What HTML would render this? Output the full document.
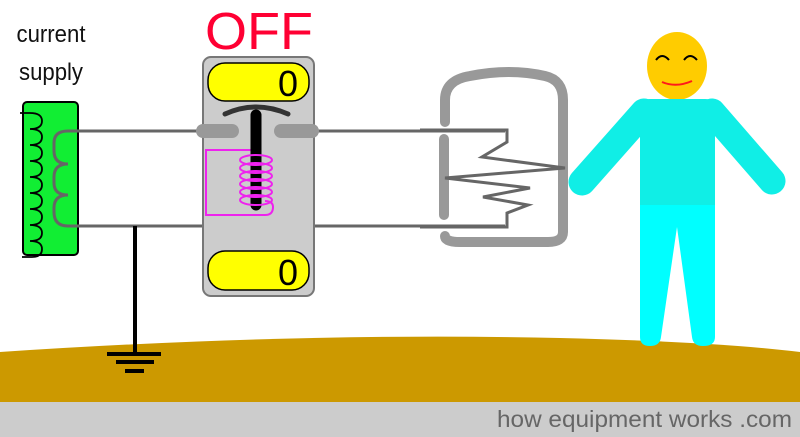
<!DOCTYPE html>
<html><head><style>html,body{margin:0;padding:0;background:#fff}svg{display:block}</style></head><body>
<svg width="800" height="437" viewBox="0 0 800 437" xmlns="http://www.w3.org/2000/svg" font-family="Liberation Sans, sans-serif">
<rect width="800" height="437" fill="#fff"/>
<!-- ground -->
<path d="M0 352 Q300 332 560 338 Q720 342 800 352 L800 402 L0 402 Z" fill="#cc9900"/>
<rect x="0" y="402" width="800" height="35" fill="#cccccc"/>
<text x="792" y="427" text-anchor="end" font-size="23" fill="#666" textLength="295" lengthAdjust="spacingAndGlyphs">how equipment works .com</text>

<!-- labels -->
<text x="51" y="42" text-anchor="middle" font-size="24" fill="#111" textLength="69" lengthAdjust="spacingAndGlyphs">current</text>
<text x="51" y="80" text-anchor="middle" font-size="24" fill="#111" textLength="64" lengthAdjust="spacingAndGlyphs">supply</text>
<text x="259" y="49" text-anchor="middle" font-size="52" fill="#ff0033" textLength="108" lengthAdjust="spacingAndGlyphs">OFF</text>

<!-- transformer -->
<rect x="23" y="102" width="55" height="153" rx="4" fill="#11ee33" stroke="#000" stroke-width="2"/>
<path d="M20 113 h10 q12 0 12 8 q0 8 -12 8 q12 0 12 8 q0 8 -12 8 q12 0 12 8 q0 8 -12 8 q12 0 12 8 q0 8 -12 8 q12 0 12 8 q0 8 -12 8 q12 0 12 8 q0 8 -12 8 q12 0 12 8 q0 8 -12 8 q12 0 12 8 q0 8 -12 8 q12 0 12 8 q0 8 -10 8 h-10" fill="none" stroke="#000" stroke-width="1.8"/>
<!-- wires -->
<path d="M505 131 H68 q-14 0 -14 12 v8 q0 13 14 13 q-14 0 -14 13 v6 q0 12 14 12 q-14 0 -14 13 v4 q0 14 14 14 H505" fill="none" stroke="#666" stroke-width="3"/>
<line x1="135" y1="226" x2="135" y2="353" stroke="#000" stroke-width="4"/>
<rect x="107" y="352" width="54" height="4" fill="#000"/>
<rect x="116" y="360" width="38" height="4" fill="#000"/>
<rect x="125" y="369" width="19" height="4" fill="#000"/>

<!-- switch -->
<rect x="203" y="57" width="111" height="239" rx="8" fill="#cccccc" stroke="#777" stroke-width="2"/>
<rect x="208" y="63" width="101" height="38" rx="17" fill="#ffff00" stroke="#000" stroke-width="1.5"/>
<text x="298" y="96" text-anchor="end" font-size="36" fill="#000">0</text>
<rect x="208" y="251" width="101" height="39" rx="17" fill="#ffff00" stroke="#000" stroke-width="1.5"/>
<text x="298" y="285" text-anchor="end" font-size="36" fill="#000">0</text>
<path d="M225 114 Q256 100 288 114" fill="none" stroke="#333" stroke-width="5" stroke-linecap="round"/>
<line x1="203" y1="131" x2="232" y2="131" stroke="#999" stroke-width="14" stroke-linecap="round"/>
<line x1="281" y1="131" x2="312" y2="131" stroke="#999" stroke-width="14" stroke-linecap="round"/>
<path d="M254 150 H206 V215 H265 q8 0 8 -8 q0 -6 -8 -6" fill="none" stroke="#ee22ee" stroke-width="2"/>
<line x1="256" y1="115" x2="256" y2="205" stroke="#000" stroke-width="11" stroke-linecap="round"/>
<g fill="none" stroke="#ee22ee" stroke-width="2">
<ellipse cx="256" cy="160" rx="16" ry="5"/><ellipse cx="256" cy="168" rx="16" ry="5"/><ellipse cx="256" cy="176" rx="16" ry="5"/><ellipse cx="256" cy="184" rx="16" ry="5"/><ellipse cx="256" cy="192" rx="16" ry="5"/><ellipse cx="256" cy="200" rx="16" ry="5"/>
</g>

<!-- heater -->
<path d="M445 122 V100 Q445 80 470 76 Q510 68 545 76 Q563 80 563 100 V232 Q563 242 548 242 H460 Q445 242 445 236" fill="none" stroke="#999" stroke-width="10" stroke-linecap="round"/>
<line x1="444" y1="139" x2="444" y2="215" stroke="#999" stroke-width="10" stroke-linecap="round"/>
<path d="M420 130 H507 V142 L482 157 L565 168 L445 178 L530 188 L483 197 L528 205 L507 213 V227 H420" fill="none" stroke="#666" stroke-width="3" stroke-linejoin="miter"/>

<!-- person -->
<ellipse cx="677" cy="66" rx="30" ry="34" fill="#ffcc00"/>
<path d="M656 60 Q662 52 669 60 M684 60 Q690 52 697 60" fill="none" stroke="#000" stroke-width="2"/>
<path d="M662 82 Q676 88 692 81" fill="none" stroke="#ff1a1a" stroke-width="2"/>
<line x1="644" y1="112" x2="582" y2="182" stroke="#10eee6" stroke-width="27" stroke-linecap="round"/>
<line x1="712" y1="112" x2="772" y2="181" stroke="#10eee6" stroke-width="27" stroke-linecap="round"/>
<path d="M640 108 Q640 99 650 99 H705 Q715 99 715 108 V205 H640 Z" fill="#10eee6"/>
<path d="M640 205 H715 V337 Q715 346 703 346 Q693 346 692 337 L677 227 L661 337 Q660 346 650 346 Q640 346 640 337 Z" fill="#00ffff"/>
</svg>
</body></html>
